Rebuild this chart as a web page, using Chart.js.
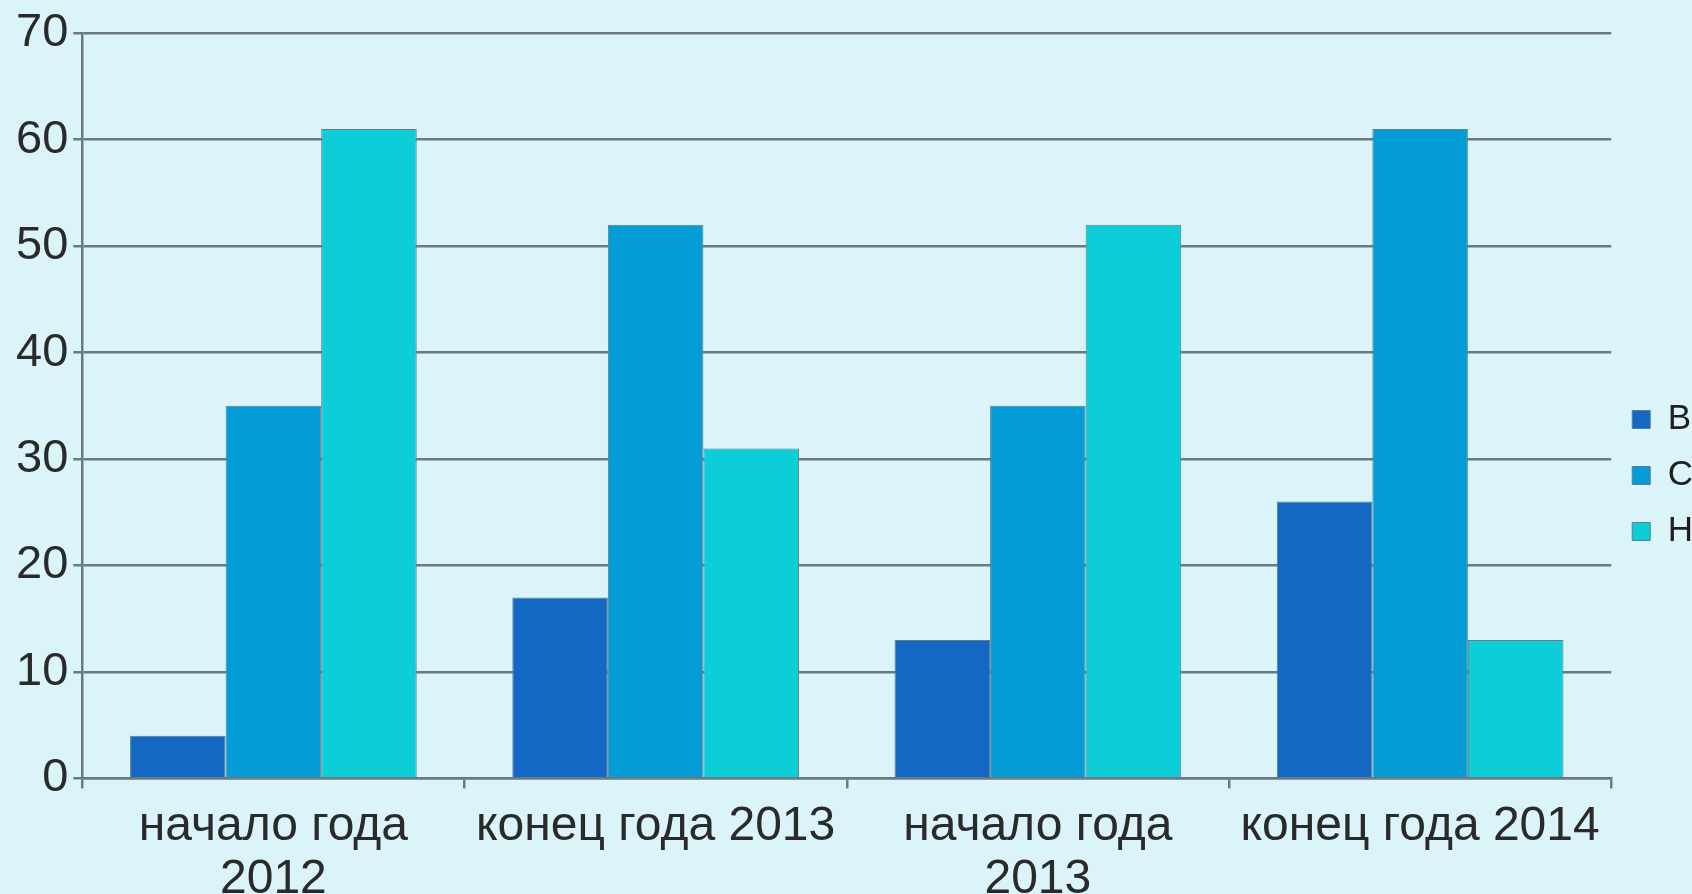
<!DOCTYPE html>
<html>
<head>
<meta charset="utf-8">
<script src="https://cdn.jsdelivr.net/npm/chart.js@4/dist/chart.umd.min.js"></script>
<style>
  html, body { margin: 0; padding: 0; background: #DAF4F9; }
  #wrap { width: 1692px; height: 894px; }
</style>
</head>
<body>
<div id="wrap"><canvas id="c" width="1692" height="894"></canvas></div>
<script>
const categories = [['начало года', '2012'], 'конец года 2013', ['начало года', '2013'], 'конец года 2014'];
const seriesNames = ['В', 'С', 'Н'];
const valuesV = [4, 17, 13, 26];
const valuesS = [35, 52, 35, 61];
const valuesN = [61, 31, 52, 13];
const yMin = 0, yMax = 70, yStep = 10;

const colors = ['#1268C2', '#049CD6', '#0CCDD8'];
const seriesValues = [valuesV, valuesS, valuesN];

const gridColor = '#6C7A80';
const textColor = '#2A2A2A';
const fontFamily = '"Liberation Sans", Arial, sans-serif';

new Chart(document.getElementById('c'), {
  type: 'bar',
  data: {
    labels: categories,
    datasets: seriesNames.map((name, i) => ({
      label: name,
      data: seriesValues[i],
      backgroundColor: colors[i],
      borderColor: '#5F7F8C',
      borderWidth: 1,
      categoryPercentage: 0.75,
      barPercentage: 1.0
    }))
  },
  options: {
    responsive: false,
    animation: false,
    devicePixelRatio: 1,
    layout: { padding: { left: 11, top: 33, right: -11, bottom: -24 } },
    plugins: {
      legend: {
        position: 'right',
        labels: {
          boxWidth: 18,
          boxHeight: 18,
          padding: 21,
          color: '#1E1E1E',
          font: { family: fontFamily, size: 35 }
        }
      },
      tooltip: { enabled: false }
    },
    scales: {
      x: {
        grid: {
          display: true,
          drawOnChartArea: false,
          drawTicks: true,
          tickLength: 10,
          color: gridColor,
          lineWidth: 2.5,
          offset: true
        },
        border: { display: true, color: gridColor, width: 2.5 },
        ticks: {
          color: textColor,
          font: { family: fontFamily, size: 48, lineHeight: 1.1 },
          maxRotation: 0,
          minRotation: 0,
          autoSkip: false,
          padding: 12
        }
      },
      y: {
        min: yMin,
        max: yMax,
        grid: {
          color: gridColor,
          lineWidth: 2.5,
          tickLength: 9,
          drawTicks: true
        },
        border: { display: true, color: gridColor, width: 2.5 },
        ticks: {
          stepSize: yStep,
          color: textColor,
          font: { family: fontFamily, size: 47 },
          padding: 5
        }
      }
    }
  }
});
</script>
</body>
</html>
